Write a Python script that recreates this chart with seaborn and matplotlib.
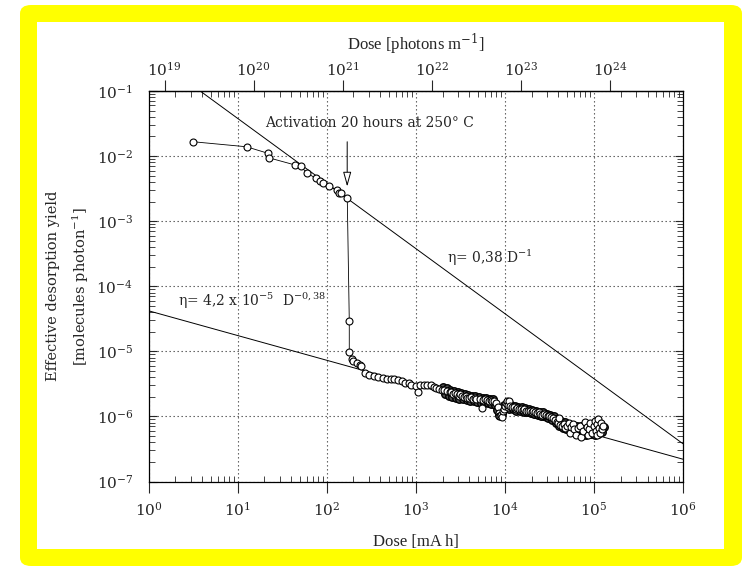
import numpy as np
import matplotlib
matplotlib.use("Agg")
import matplotlib.pyplot as plt
import seaborn as sns
from matplotlib.patches import FancyBboxPatch, Rectangle
from matplotlib.ticker import LogLocator, FixedLocator, NullLocator, NullFormatter

# dose [mA h] and effective yield [molecules/photon]
dose_before = [3.18, 12.6, 22.1, 22.5, 44.1, 51.1, 59.6, 75.3, 84.1, 91.6,
               107, 129.5, 138.4, 145.8, 170.3]
yield_before = [0.0166, 0.0139, 0.0110, 0.0094, 0.0073, 0.00697, 0.00556,
                0.00456, 0.00419, 0.00382, 0.00347, 0.00301, 0.00274,
                0.00268, 0.00230]

dose_after = [179.4, 179.4, 191, 199, 217, 237, 243,
              269, 302, 339, 380, 427, 479, 525, 575, 631, 692,
              759, 832, 891, 1000, 1072, 1122, 1230, 1349, 1479, 1585,
              1698, 1820, 1950, 2089, 2239, 2399, 2512, 2630, 2754, 2884,
              3020, 3162, 3311, 3467, 3631, 3802, 3981, 4169, 4365, 4571,
              4786, 5248, 5495, 5754, 6026, 6310, 6607, 6918, 7244, 7586,
              7943, 8318, 8511, 8710, 8913, 9120, 9333, 9550, 9772, 10000,
              10233, 10471, 10715, 10965, 11220, 11482, 12023, 12589, 13183,
              13804, 14454, 15136, 15849, 16596, 17378, 18197, 19055, 19953,
              20893, 21878, 22909, 23988, 25119, 26303, 27542, 28840, 30200,
              31623, 33113, 34674, 36308, 38019, 39811, 40738, 41687, 43652,
              45709, 47863, 50119, 52481, 53703, 54954, 57544, 60256, 63096,
              66069, 69183, 72444, 75858, 79433, 83176, 85114, 89125, 91201,
              95499, 100000, 102329, 104713, 107152, 109648, 112202, 114815,
              117490, 120226, 123027, 125893]
yield_after = [2.96e-5, 9.7e-6, 7.57e-6, 7.2e-6, 6.7e-6, 6.25e-6, 5.97e-6,
               4.68e-6, 4.37e-6, 4.17e-6, 3.98e-6, 3.89e-6, 3.80e-6, 3.72e-6,
               3.72e-6, 3.63e-6, 3.47e-6,
               3.31e-6, 3.24e-6, 3.02e-6, 2.95e-6, 2.40e-6, 3.02e-6, 3.02e-6,
               3.09e-6, 3.02e-6, 2.88e-6,
               2.75e-6, 2.63e-6, 2.57e-6, 2.51e-6, 2.45e-6, 2.34e-6, 2.40e-6,
               2.24e-6, 2.29e-6, 2.19e-6,
               2.09e-6, 2.19e-6, 2.04e-6, 2.00e-6, 2.09e-6, 1.95e-6, 1.91e-6,
               2.00e-6, 1.86e-6, 1.91e-6,
               1.82e-6, 1.86e-6, 1.35e-6, 1.78e-6, 1.82e-6, 1.78e-6, 1.74e-6,
               1.78e-6, 1.70e-6, 1.74e-6,
               1.58e-6, 1.41e-6, 1.12e-6, 1.02e-6, 1.00e-6, 1.07e-6, 9.77e-7,
               1.20e-6, 1.32e-6, 1.45e-6,
               1.58e-6, 1.74e-6, 1.38e-6, 1.51e-6, 1.70e-6, 1.45e-6, 1.38e-6,
               1.41e-6, 1.32e-6,
               1.35e-6, 1.29e-6, 1.32e-6, 1.26e-6, 1.29e-6, 1.23e-6, 1.20e-6,
               1.23e-6, 1.17e-6,
               1.20e-6, 1.15e-6, 1.12e-6, 1.15e-6, 1.10e-6, 1.07e-6, 1.10e-6,
               1.05e-6, 1.02e-6,
               1.00e-6, 9.77e-7, 9.33e-7, 8.71e-7, 8.32e-7, 7.94e-7, 9.33e-7,
               7.41e-7, 7.08e-7,
               7.59e-7, 6.61e-7, 7.24e-7, 7.94e-7, 5.62e-7, 6.92e-7, 7.59e-7,
               6.31e-7, 5.25e-7,
               6.61e-7, 7.24e-7, 4.79e-7, 6.03e-7, 8.32e-7, 6.92e-7, 5.25e-7,
               6.31e-7, 7.94e-7,
               5.50e-7, 7.24e-7, 8.51e-7, 6.03e-7, 5.13e-7, 7.59e-7, 9.12e-7,
               6.61e-7,
               5.50e-7, 7.94e-7, 6.31e-7, 7.08e-7]

# upper / lower edge of the dense band of overlapping circles
dose_band = [2042, 2138, 2239, 2344, 2455, 2570, 2692, 2818, 2951, 3090,
             3236, 3388, 3548, 3715, 3890, 4074, 4266, 4467, 4677, 4898,
             5129, 5370, 5623, 5888, 6166, 6457, 6761, 7079, 7413, 7762,
             8128, 8511, 8913, 9333, 9772, 10233, 10715, 11220, 11749, 12303,
             12882, 13490, 14125, 14791, 15488, 16218, 16982, 17783, 18621,
             19498, 20417, 21380, 22387, 23442, 24547, 25704, 26915, 28184,
             29512, 30903, 32359, 33884, 35481, 37154, 38905, 40738, 42658,
             44668, 46774, 48978, 51286, 56234, 58884, 61660, 64565, 67608,
             70795, 74131, 77625, 81283, 87096, 93325, 97724, 102329, 107152,
             112202, 117490, 123027, 128825]
yield_band = [2.82e-6, 2.19e-6, 2.69e-6, 2.09e-6, 2.57e-6, 2.00e-6, 2.45e-6,
              1.91e-6, 2.34e-6, 1.86e-6, 2.29e-6, 1.82e-6, 2.24e-6, 1.78e-6,
              2.14e-6, 1.74e-6, 2.09e-6, 1.70e-6, 2.04e-6, 1.66e-6, 2.00e-6,
              1.62e-6, 1.95e-6, 1.62e-6, 1.91e-6, 1.58e-6, 1.86e-6, 1.55e-6,
              1.82e-6, 1.48e-6, 1.26e-6, 1.05e-6, 1.17e-6, 1.10e-6, 1.51e-6,
              1.38e-6, 1.58e-6, 1.32e-6, 1.51e-6, 1.29e-6, 1.45e-6, 1.23e-6,
              1.41e-6, 1.20e-6, 1.38e-6, 1.17e-6, 1.35e-6, 1.15e-6, 1.29e-6,
              1.12e-6, 1.26e-6, 1.10e-6, 1.20e-6, 1.07e-6, 1.17e-6, 1.02e-6,
              1.15e-6, 1.00e-6, 1.10e-6, 9.33e-7, 1.05e-6, 8.71e-7, 1.00e-6,
              7.94e-7, 9.12e-7, 7.24e-7, 8.51e-7, 6.61e-7, 8.13e-7, 6.31e-7,
              7.76e-7, 6.03e-7, 7.41e-7, 5.75e-7, 7.24e-7, 5.50e-7, 7.08e-7,
              5.37e-7, 6.92e-7, 5.25e-7, 7.08e-7, 5.37e-7, 6.92e-7, 5.25e-7,
              6.92e-7, 5.37e-7, 7.24e-7, 5.75e-7, 6.76e-7]

# fitted power laws (end points of the drawn lines)
fit1_dose = [3.8, 1e6]
fit1_yield = [0.1, 3.8e-7]
fit2_dose = [1, 1e6]
fit2_yield = [4.2e-5, 2.2e-7]

photon_ticks = [1e19, 1e20, 1e21, 1e22, 1e23, 1e24]
photons_per_mah = 6.6e18

sns.set_style("ticks")
plt.rcParams["font.family"] = ["DejaVu Serif"]
plt.rcParams["mathtext.fontset"] = "dejavuserif"

fig = plt.figure(figsize=(7.43, 5.69), dpi=100)
W, H = 743, 569
fig.patches.append(FancyBboxPatch((20 / W, 1 - 566 / H), 722 / W, 561 / H,
                                  boxstyle="round,pad=0,rounding_size=0.015",
                                  transform=fig.transFigure, fc="#ffff00",
                                  ec="none", zorder=-10))
fig.patches.append(Rectangle((37 / W, 1 - 549 / H), 687 / W, 527 / H,
                             transform=fig.transFigure, fc="white",
                             ec="none", zorder=-9))

ax = fig.add_axes([148.5 / W, 1 - 481.5 / H, 534.5 / W, 390.5 / H])
ax.set_xscale("log")
ax.set_yscale("log")

sns.lineplot(x=fit1_dose, y=fit1_yield, ax=ax, color="black", lw=0.7,
             estimator=None, sort=False, zorder=2)
sns.lineplot(x=fit2_dose, y=fit2_yield, ax=ax, color="black", lw=0.7,
             estimator=None, sort=False, zorder=2)

# dense overlapping circles look dark in the original
sns.lineplot(x=dose_band, y=yield_band, ax=ax, lw=0, estimator=None,
             sort=False, zorder=3, marker="o", markersize=5.4,
             markerfacecolor="0.3", markeredgecolor="black",
             markeredgewidth=1.0)
dose_all = dose_before + dose_after
yield_all = yield_before + yield_after
sns.lineplot(x=dose_all, y=yield_all, ax=ax, color="black", lw=0.6,
             estimator=None, sort=False, zorder=3, marker="o", markersize=5.0,
             markerfacecolor="white", markeredgecolor="black",
             markeredgewidth=0.8)

ax.set_xlim(1, 1e6)
ax.set_ylim(1e-7, 1e-1)

for axis in (ax.xaxis, ax.yaxis):
    axis.set_major_locator(LogLocator(base=10, numticks=20))
    axis.set_minor_locator(LogLocator(base=10, subs=np.arange(2, 10), numticks=100))
    axis.set_minor_formatter(NullFormatter())

ax.grid(True, which="major", ls=(0, (1.2, 2.4)), color="0.3", lw=0.8)
for s in ax.spines.values():
    s.set_linewidth(0.9)
    s.set_color("black")

ax.tick_params(which="minor", direction="in", length=4, width=0.6,
               top=True, right=True, bottom=True, left=True)
ax.tick_params(axis="x", which="major", direction="out", length=8, width=0.8,
               top=False, labelsize=11, pad=6)
ax.tick_params(axis="y", which="major", direction="in", length=6, width=0.8,
               left=True, right=True, labelsize=11, pad=11)

ax.set_xlabel("Dose [mA h]", family="Liberation Serif", fontsize=12, labelpad=11)
ax.set_ylabel("Effective desorption yield\n[molecules photon$^{-1}$]",
              fontsize=10.5, labelpad=4, linespacing=1.7)

sec = ax.secondary_xaxis("top", functions=(lambda d: d * photons_per_mah,
                                           lambda p: p / photons_per_mah))
sec.xaxis.set_major_locator(FixedLocator(photon_ticks))
sec.xaxis.set_minor_locator(NullLocator())
sec.tick_params(which="major", direction="out", length=8, width=0.8,
                labelsize=11, pad=0.5)
sec.spines["top"].set_linewidth(0.9)
sec.set_xlabel("Dose [photons m$^{-1}$]", family="Liberation Serif",
               fontsize=12, labelpad=8)

ax.annotate("", xy=(170, 3.4e-3), xytext=(170, 0.0166),
            arrowprops=dict(arrowstyle="-|>,head_length=0.9,head_width=0.25",
                            fc="white", ec="black", lw=0.7,
                            shrinkA=0, shrinkB=0), zorder=4)
ax.text(306, 0.0322, "Activation 20 hours at 250° C", ha="center",
        va="center", fontsize=10)
ax.text(2250, 2.72e-4, "η= 0,38 D$^{-1}$", ha="left", va="center", fontsize=10)
ax.text(2.14, 5.94e-5, "η= 4,2 x 10$^{-5}$  D$^{-0,38}$", ha="left",
        va="center", fontsize=10)

fig.savefig("out.png", dpi=100, facecolor="white")
